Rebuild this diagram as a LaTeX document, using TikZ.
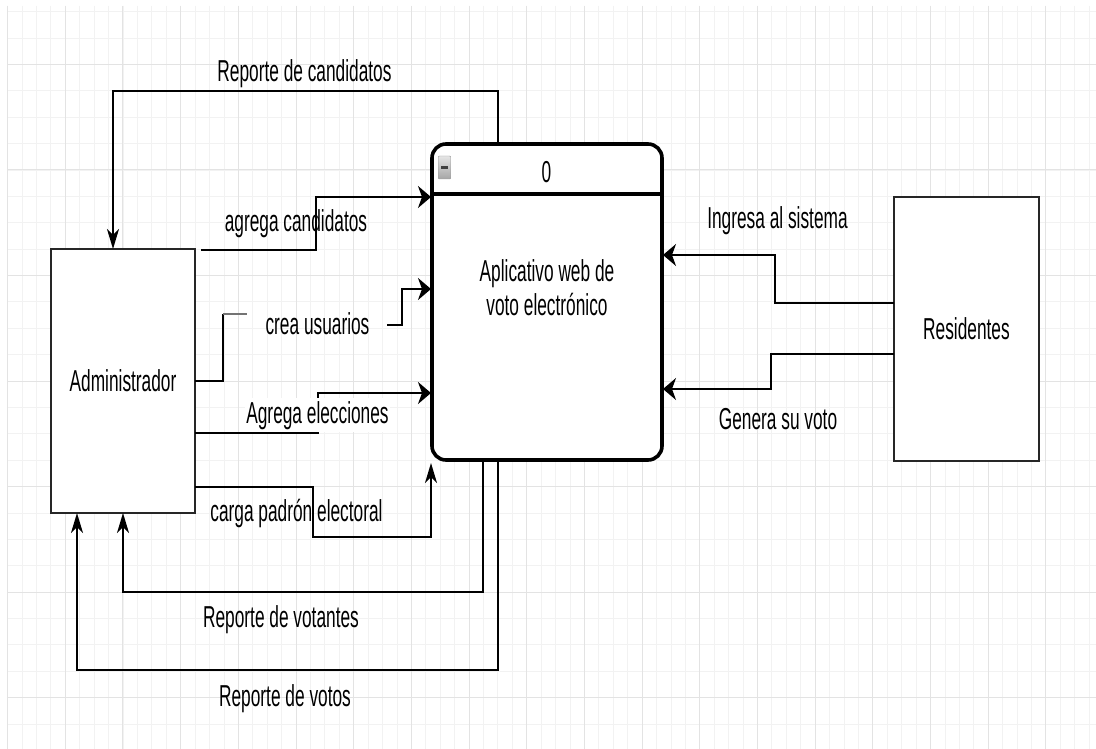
\documentclass[tikz,border=0pt]{standalone}
\usepackage{fontspec}
\setmainfont{Liberation Sans}
\usepackage{graphicx}
\usetikzlibrary{arrows.meta,calc}
% labels are set narrow and tall
\newcommand\tallbox[1]{\scalebox{1}[1.75]{#1}}

\begin{document}
\begin{tikzpicture}[x=1pt,y=-1pt,
  gridminor/.style={draw=black!5, line width=0.8pt},
  gridmajor/.style={draw=black!11, line width=1pt},
  entity/.style={draw=black!85, line width=1.8pt, fill=white, rectangle,
    inner sep=0, outer sep=0, font=\fontsize{17.3}{20}\selectfont},
  process/.style={draw=black, line width=3.6pt, fill=white, rectangle,
    rounded corners=14pt, inner sep=0, outer sep=0},
  conn/.style={draw=black, line width=1.8pt},
  stub/.style={draw=black!55, line width=2.6pt},
  harrow/.style={-{Stealth[length=13pt,width=22pt,inset=4pt]}},
  varrow/.style={-{Stealth[length=20pt,width=12pt,inset=6pt]}},
  lbl/.style={inner sep=0, anchor=base, font=\fontsize{17.3}{20}\selectfont},
]
\useasboundingbox (0,0) rectangle (1096,749);
\fill[white] (0,0) rectangle (1096,749);

% background grid
\foreach \i in {0,...,75}
  \draw[gridminor] ({7.6+14.42*\i},6) -- ({7.6+14.42*\i},749);
\foreach \j in {0,...,28}
  \draw[gridminor] (7,{11.7+26.38*\j}) -- (1096,{11.7+26.38*\j});
\foreach \i in {0,...,18}
  \draw[gridmajor] ({7.6+57.68*\i},6) -- ({7.6+57.68*\i},749);
\foreach \j in {0,...,6}
  \draw[gridmajor] (7,{64.46+105.52*\j}) -- (1096,{64.46+105.52*\j});

% external entities and the process
\node[entity, minimum width=144pt, minimum height=264pt] (admin) at (123,381) {\tallbox{Administrador}};
\node[entity, minimum width=145pt, minimum height=264pt] (res) at (966.5,329) {\tallbox{Residentes}};
\node[process, minimum width=230pt, minimum height=316pt] (proc) at (547,302) {};
\draw[line width=3.2pt] ($(proc.north west)+(0,50)$) -- ($(proc.north east)+(0,50)$);

% collapse button of the process header
\node[draw=black!40, top color=black!10, bottom color=black!35, minimum width=12.5pt,
  minimum height=23pt, inner sep=0, rounded corners=1pt] (fold) at (444.5,167.5) {};
\draw[line width=3pt, black!75] ($(fold.center)+(-3.5,0)$) -- ($(fold.center)+(3.5,0)$);

% data flows
\draw[conn,varrow] ($(proc.north west)+(66,0)$) -- ++(0,-53) -| ($(admin.north west)+(62,0)$);
\draw[conn,harrow] ($(admin.north east)+(6,1)$) -- ++(115,0) |- ($(proc.north west)+(-1,53)$);
\draw[conn] (admin.east) -| ++(28,-67) coordinate (cuA);
\draw[stub] (cuA) -- ++(24,0);
\draw[conn,harrow] ($(proc.west)+(-45,23)$) -- ++(15,0) |- ($(proc.north west)+(-1,145)$);
\draw[conn,harrow] ($(admin.east)+(0,52)$) -- ++(123,0) |- ($(proc.north west)+(-1,249)$);
\draw[conn,varrow] ($(admin.east)+(0,106)$) -- ++(118,0) -- ++(0,50) -| ($(proc.south west)+(-1,3)$);
\draw[conn,varrow] ($(proc.south west)+(51,0)$) |- ($(admin.south)+(0,79)$) -- (admin.south);
\draw[conn,varrow] ($(proc.south west)+(66,0)$) |- ($(admin.south west)+(26,157)$) -- ($(admin.south west)+(26,0)$);
\draw[conn,harrow] ($(res.west)+(0,-26)$) -- ++(-119,0) |- ($(proc.north east)+(1,111)$);
\draw[conn,harrow] ($(res.west)+(0,25)$) -- ++(-123,0) |- ($(proc.north east)+(1,245)$);

% process texts
\node[lbl] (pnum) at (546.5,183) {\tallbox{0}};
\node[lbl] (pt1) at (547,281) {\tallbox{Aplicativo web de}};
\node[lbl] (pt2) at (547,315) {\tallbox{voto electrónico}};

% flow labels
\node[lbl] (lcand) at (304.5,82) {\tallbox{Reporte de candidatos}};
\node[lbl] (lagc) at (296,232) {\tallbox{agrega candidatos}};
\node[lbl] (cu) at (317.5,334) {\tallbox{crea usuarios}};
\node[lbl, fill=white, inner ysep=3pt, inner xsep=1pt] (lage) at (317.5,423) {\tallbox{Agrega elecciones}};
\node[lbl] (lcpe) at (296.5,521) {\tallbox{carga padrón electoral}};
\node[lbl] (lvot) at (281,627) {\tallbox{Reporte de votantes}};
\node[lbl] (lvos) at (285,706) {\tallbox{Reporte de votos}};
\node[lbl] (ling) at (777.5,229) {\tallbox{Ingresa al sistema}};
\node[lbl] (lgen) at (778,429) {\tallbox{Genera su voto}};
\end{tikzpicture}
\end{document}
